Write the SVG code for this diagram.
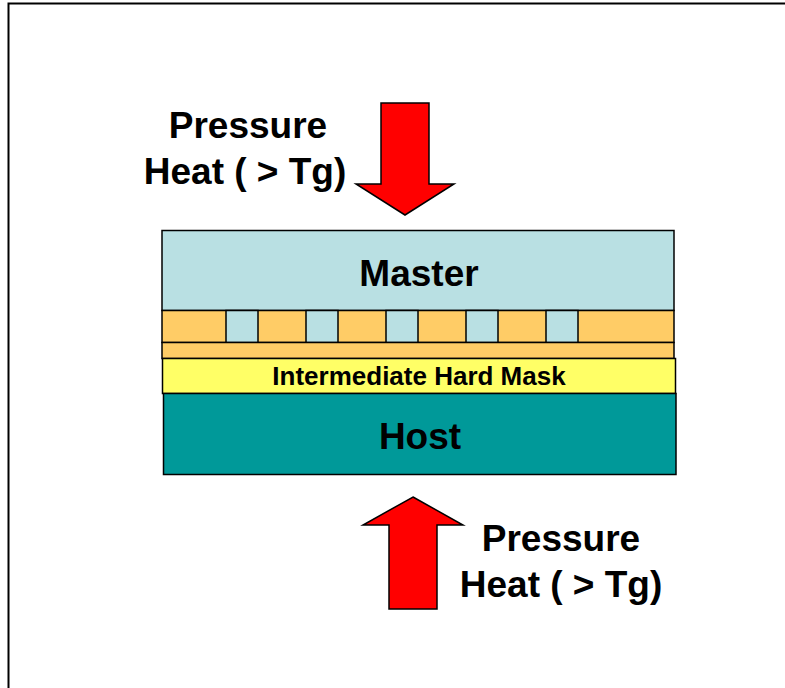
<svg xmlns="http://www.w3.org/2000/svg" width="785" height="688" viewBox="0 0 785 688">
<style>
.ln{stroke:#000;stroke-width:1.5}
.blue{fill:#B9E0E3}
.orange{fill:#FFCC66}
.yellow{fill:#FFFF66}
.teal{fill:#009999}
.arrow{fill:#FF0000;stroke:#000;stroke-width:1.5;stroke-linejoin:miter}
text{font-family:"Liberation Sans",Arial,sans-serif;font-weight:bold;fill:#000}
.big{font-size:37px}
.mid{font-size:26px}
</style>
<rect x="0" y="0" width="785" height="688" fill="#fff"/>
<rect x="8.5" y="3.5" width="800" height="700" fill="none" stroke="#000" stroke-width="2"/>
<g id="master">
<rect class="blue ln" x="162" y="230.5" width="512" height="80"/>
<text class="big" x="419" y="286" text-anchor="middle">Master</text>
</g>
<g id="pattern">
<rect class="orange ln" x="162" y="310.5" width="512" height="32"/>
<rect class="blue ln" x="226" y="310.5" width="32" height="32"/>
<rect class="blue ln" x="306" y="310.5" width="32" height="32"/>
<rect class="blue ln" x="386" y="310.5" width="32" height="32"/>
<rect class="blue ln" x="466" y="310.5" width="32" height="32"/>
<rect class="blue ln" x="546" y="310.5" width="32" height="32"/>
</g>
<g id="resist">
<rect class="orange ln" x="162" y="342.5" width="512" height="16"/>
</g>
<g id="hardmask">
<rect class="yellow ln" x="162.5" y="358.5" width="513" height="35"/>
<text class="mid" x="419" y="385" text-anchor="middle">Intermediate Hard Mask</text>
</g>
<g id="host">
<rect class="teal ln" x="163.5" y="393.5" width="512.5" height="81"/>
<text class="big" x="420" y="449" text-anchor="middle">Host</text>
</g>
<g id="connectors">
<polygon id="arrow-top" class="arrow" points="381,103 429,103 429,184 454,184 405,215 356,184 381,184"/>
<polygon id="arrow-bottom" class="arrow" points="413,497 463,525 437,525 437,609 389,609 389,525 363,525"/>
</g>
<g id="label-top">
<text class="big" x="248" y="138" text-anchor="middle">Pressure</text>
<text class="big" x="245" y="184" text-anchor="middle">Heat ( &gt; Tg)</text>
</g>
<g id="label-bottom">
<text class="big" x="561" y="551" text-anchor="middle">Pressure</text>
<text class="big" x="561" y="597" text-anchor="middle">Heat ( &gt; Tg)</text>
</g>
</svg>
